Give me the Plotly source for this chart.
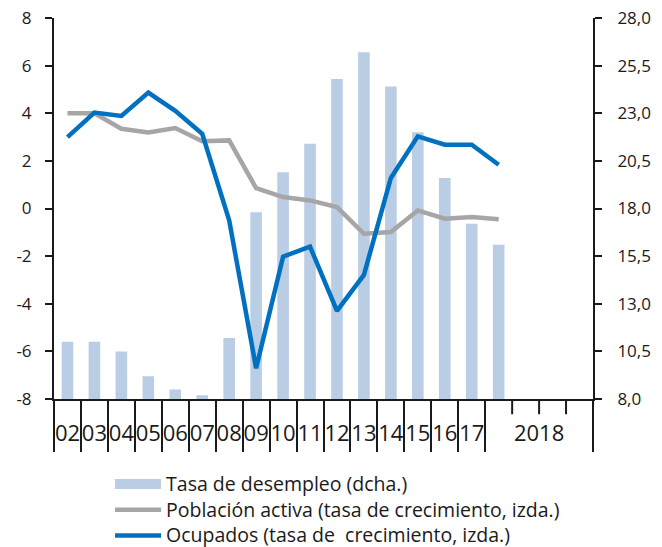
import plotly.graph_objects as go

# ---- data ----
x_labels = ["02", "03", "04", "05", "06", "07", "08", "09", "10", "11",
            "12", "13", "14", "15", "16", "17"]
group_label = "2018"
group_slots = 4          # number of category slots under the "2018" group

# Tasa de desempleo (%), right axis
unemployment = [11.0, 11.0, 10.5, 9.2, 8.5, 8.2, 11.2, 17.8, 19.9, 21.4,
                24.8, 26.2, 24.4, 22.0, 19.6, 17.2, 16.1]
# Población activa, tasa de crecimiento (%), left axis
active_pop = [4.0, 4.0, 3.35, 3.19, 3.38, 2.82, 2.86, 0.86, 0.48, 0.34,
              0.06, -1.06, -0.99, -0.08, -0.43, -0.36, -0.45]
# Ocupados, tasa de crecimiento (%), left axis
employed = [3.0, 4.03, 3.89, 4.87, 4.1, 3.14, -0.5, -6.71, -2.02, -1.6,
            -4.3, -2.79, 1.28, 3.03, 2.68, 2.68, 1.84]

left_ticks = [-8, -6, -4, -2, 0, 2, 4, 6, 8]
right_ticks = [8.0, 10.5, 13.0, 15.5, 18.0, 20.5, 23.0, 25.5, 28.0]

names = ["Tasa de desempleo (dcha.)",
         "Población activa (tasa de crecimiento, izda.)",
         "Ocupados (tasa de  crecimiento, izda.)"]

BAR_C, GRAY_C, BLUE_C = "#b9cde5", "#a6a6a6", "#0070c0"

# ---- derived category geometry ----
n_single = len(x_labels)
n_slots = n_single + group_slots
xs = list(range(1, len(unemployment) + 1))
label_pos = list(range(1, n_single + 1)) + [n_single + group_slots / 2 + 0.5]
label_txt = x_labels + [group_label]
long_bounds = [i + 0.5 for i in range(0, n_single + 1)] + [n_slots + 0.5]
short_bounds = [n_single + 0.5 + k for k in range(1, group_slots)]

AX = "#1a1a1a"
FONT = "Open Sans, Liberation Sans, sans-serif"
TICKFONT = dict(family=FONT, size=17, color=AX)


def legend_name(s):
    # slightly larger glyphs than the legend row height so rows stay tight
    return f"<span style='font-size:19.5px'>{s}</span>"


fig = go.Figure()
fig.add_bar(x=xs, y=unemployment, yaxis="y", width=0.43,
            marker=dict(color=BAR_C, line=dict(width=0)), name=names[0],
            legendgroup="u", showlegend=False)
# legend proxy so the legend key is a wide patch as in the reference
fig.add_scatter(x=[None], y=[None], yaxis="y", mode="lines",
                line=dict(color=BAR_C, width=14), name=legend_name(names[0]),
                legendgroup="u", hoverinfo="skip")
fig.add_scatter(x=xs, y=active_pop, yaxis="y2", mode="lines",
                line=dict(color=GRAY_C, width=4.5), name=legend_name(names[1]))
fig.add_scatter(x=xs, y=employed, yaxis="y2", mode="lines",
                line=dict(color=BLUE_C, width=4.5), name=legend_name(names[2]))

shapes = [dict(type="line", xref="x", yref="paper", x0=b, x1=b, y0=0,
               y1=-0.04, line=dict(color=AX, width=2)) for b in short_bounds]

fig.update_layout(
    width=662, height=547,
    margin=dict(l=54, r=69, t=18, b=148, autoexpand=False),
    paper_bgcolor="white", plot_bgcolor="white",
    separators=",.",
    showlegend=True,
    shapes=shapes,
    xaxis=dict(
        range=[0.5, n_slots + 0.5], showgrid=False, zeroline=False,
        showline=True, linecolor=AX, linewidth=2, tickangle=0,
        tickmode="array", tickvals=label_pos, ticktext=label_txt, ticks="",
        tickfont=dict(family=FONT, size=22, color=AX),
        ticklabelstandoff=14,
        minor=dict(tickmode="array", tickvals=long_bounds, ticks="outside",
                   ticklen=51, tickwidth=2, tickcolor=AX, showgrid=False),
    ),
    yaxis=dict(
        side="right", range=[8, 28], showgrid=False, zeroline=False,
        showline=True, linecolor=AX, linewidth=2,
        tickmode="array", tickvals=right_ticks,
        ticktext=[f"{v:.1f}".replace(".", ",") for v in right_ticks],
        ticks="outside", ticklen=7, tickwidth=2, tickcolor=AX,
        tickfont=TICKFONT, ticklabelstandoff=12, ticklabeloverflow="allow",
    ),
    yaxis2=dict(
        overlaying="y", side="left", range=[-8, 8], showgrid=False,
        zeroline=False, showline=True, linecolor=AX, linewidth=2,
        tickmode="array", tickvals=left_ticks,
        ticktext=[str(v) for v in left_ticks],
        ticks="outside", ticklen=7, tickwidth=2, tickcolor=AX,
        tickfont=TICKFONT, ticklabelstandoff=10, ticklabeloverflow="allow",
    ),
    legend=dict(
        x=0.104, y=-0.176, xanchor="left", yanchor="top", orientation="v",
        font=dict(family=FONT, size=17.5, color=AX),
        bgcolor="rgba(0,0,0,0)", itemwidth=46, tracegroupgap=0,
        traceorder="normal",
    ),
)

# remove the default 8px page margin so the figure fills the window exactly
fig.write_html("out.html", config={"displayModeBar": False},
               post_script="document.body.style.margin='0';")
